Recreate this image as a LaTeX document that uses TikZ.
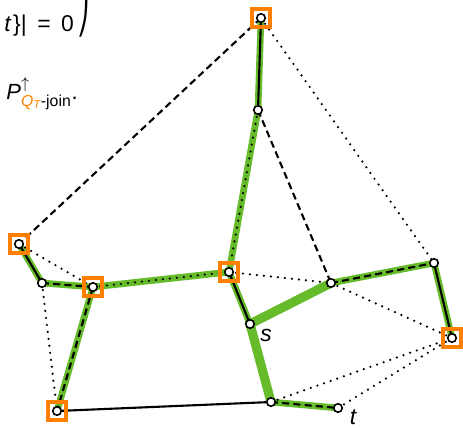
\documentclass[tikz,border=0pt]{standalone}
\usepackage{fontspec}
\setmainfont{Liberation Sans}
\newfontfamily\symfont{DejaVu Sans}
\usepackage{xcolor}
\usepackage{tikz}
\usetikzlibrary{backgrounds}

\definecolor{treegreen}{RGB}{102,187,42}
\definecolor{termorange}{RGB}{255,128,0}

\begin{document}
\begin{tikzpicture}[x=0.02cm, y=-0.02cm,
  vtx/.style={circle, draw, fill=white, line width=0.9pt, inner sep=0pt, minimum size=1.7mm},
  term/.style={rectangle, draw=termorange, line width=2pt, inner sep=0pt, minimum size=3.6mm},
  tree/.style={treegreen, line width=3.8pt},
  treebold/.style={treegreen, line width=5.2pt},
  edg/.style={line width=1.2pt},
  dsh/.style={line width=1.2pt, dash pattern=on 4pt off 2.4pt},
  dts/.style={line width=1.4pt, line cap=round, dash pattern=on 0pt off 4pt},
  lbl/.style={font=\fontsize{13}{15}\selectfont\itshape, inner sep=0pt}
]
  \useasboundingbox (0,0) rectangle (463,427);

  % text cut from the slide
  \node[anchor=base west, inner sep=0pt, font=\fontsize{13}{15}\selectfont] (cond) at (4,31)
    {\textit{t}\hspace{1pt}\}|\hspace{6pt}=\hspace{6pt}0\hspace{2pt}\raisebox{1.5pt}{\symfont\scalebox{1.1}[1.6]{\char"23A0}}};
  \node[anchor=base west, inner sep=0pt, font=\fontsize{12.5}{15}\selectfont] (join) at (6,99)
    {\textit{P}$^{\uparrow}_{\mbox{\fontsize{9}{10}\selectfont\color{termorange}\textit{Q}\raisebox{-1.6pt}{\fontsize{6.5}{7}\selectfont\textit{T}}\color{black}-join}}$.};

  % vertices
  \node[vtx] (top) at (261,18) {};
  \node[vtx] (mid) at (258,110) {};
  \node[vtx] (c) at (229,272) {};
  \node[vtx] (s) at (250,324) {};
  \node[vtx] (e) at (331,283) {};
  \node[vtx] (f) at (434,263) {};
  \node[vtx] (g) at (452,338) {};
  \node[vtx] (h) at (271,402) {};
  \node[vtx] (t) at (338,408) {};
  \node[vtx] (l1) at (19,244) {};
  \node[vtx] (l2) at (42,283) {};
  \node[vtx] (l3) at (93,287) {};
  \node[vtx] (l4) at (57,411) {};

  \node[lbl] (slbl) at (266,335) {s};
  \node[lbl] (tlbl) at (353,417) {t};

  \begin{scope}[on background layer]
    % Steiner tree
    \foreach \a/\b in {top/mid, mid/c, l1/l2, l2/l3, l3/l4, l3/c, c/s, e/f, f/g, h/t}
      \draw[tree] (\a.center) -- (\b.center);
    \draw[treebold] (e.center) -- (s.center) -- (h.center);
    % edges
    \foreach \a/\b in {top/mid, l1/l2, c/s, f/g, l4/h}
      \draw[edg] (\a.center) -- (\b.center);
    \foreach \a/\b in {top/l1, mid/e, l2/l3, l3/l4, e/f, h/t}
      \draw[dsh] (\a.center) -- (\b.center);
    \foreach \a/\b in {top/f, mid/c, l1/l3, l2/l4, l3/c, c/e, e/g, h/g, t/g}
      \draw[dts] (\a.center) -- (\b.center);
  \end{scope}

  % terminals
  \foreach \v in {top, c, g, l1, l3, l4}
    \node[term] (\v-sq) at (\v) {};
\end{tikzpicture}
\end{document}
